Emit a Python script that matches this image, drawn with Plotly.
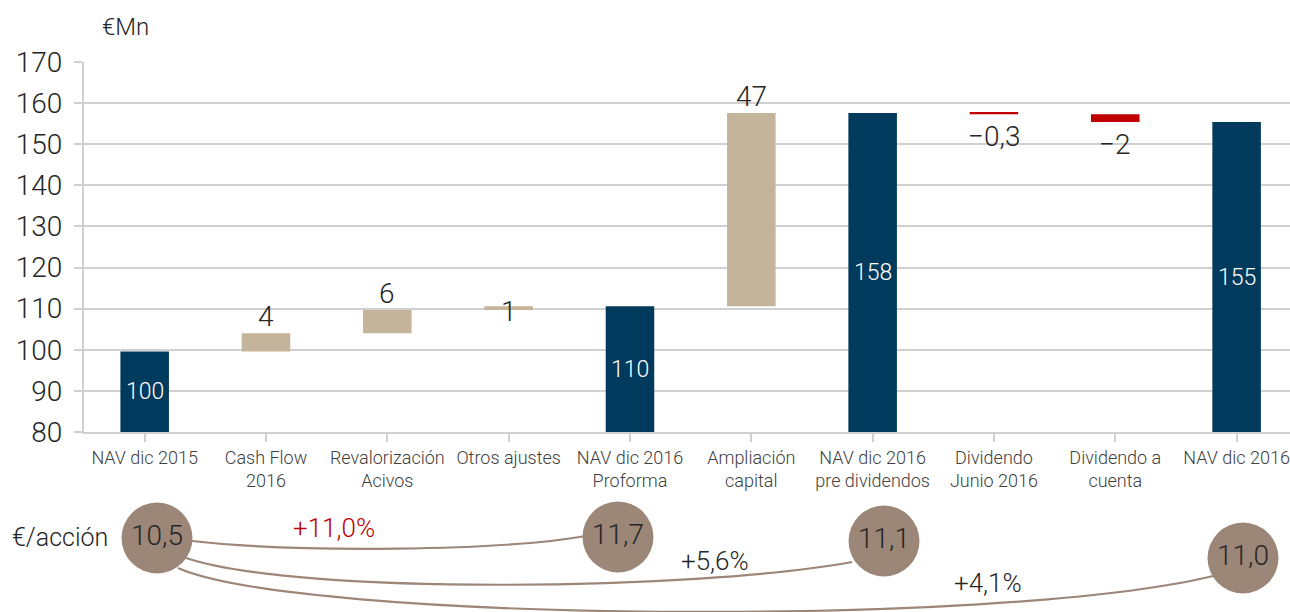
import plotly.graph_objects as go

# waterfall data (EUR Mn)
categories = ["NAV dic 2015", "Cash Flow<br>2016", "Revalorización<br>Acivos", "Otros ajustes",
              "NAV dic 2016<br>Proforma", "Ampliación<br>capital", "NAV dic 2016<br>pre dividendos",
              "Dividendo<br>Junio 2016", "Dividendo a<br>cuenta", "NAV dic 2016"]
measures = ["total", "relative", "relative", "relative", "total",
            "relative", "total", "relative", "relative", "total"]
nav_values = [99.6, 4.4, 5.7, 0.9, 110.6, 47.0, 157.6, -0.3, -1.9, 155.4]
value_labels = ["100", "4", "6", "1", "110", "47", "158", "−0,3", "−2", "155"]

# per share data
per_share = [10.5, 11.7, 11.1, 11.0]
per_share_labels = ["10,5", "11,7", "11,1", "11,0"]
growth_labels = ["+11,0%", "+5,6%", "+4,1%"]

NAVY = "#003A5D"
TAN = "#C4B49A"
RED = "#C00000"
BROWN = "#9C8677"
GRID = "#D0D0D0"
TXT = "#262626"
FONT = "Roboto"

W, H = 1290, 612
L, T = 84, 62
AXIS_BOTTOM = 432
Y_MIN, Y_MAX = 80, 170


def paper(px, py):
    return (px - L) / (W - L), (H - py) / (H - T)


split = (H - AXIS_BOTTOM) / (H - T)

# bases of the floating bars
bases, heights, colors = [], [], []
running = 0.0
for m, v in zip(measures, nav_values):
    if m == "total":
        bases.append(0.0)
        heights.append(v)
        colors.append(NAVY)
        running = v
    else:
        bases.append(running)
        heights.append(v)
        colors.append(TAN if v > 0 else RED)
        running += v

fig = go.Figure()
fig.add_trace(go.Bar(x=list(range(len(categories))), y=heights, base=bases,
                     marker=dict(color=colors, line=dict(width=0)),
                     width=0.4, hoverinfo="skip", showlegend=False))

label_pos = ["inside", "above", "above", "middle", "inside", "above", "inside", "below", "below", "inside"]
annotations = []
for i, (b, h, lab, pos) in enumerate(zip(bases, heights, value_labels, label_pos)):
    lo, hi = min(b, b + h), max(b, b + h)
    if pos == "inside":
        annotations.append(dict(x=i, y=(max(lo, Y_MIN) + hi) / 2, xref="x", yref="y", text=lab,
                                showarrow=False,
                                font=dict(size=23, color="white", family=FONT, weight=300)))
    elif pos == "above":
        annotations.append(dict(x=i, y=hi, xref="x", yref="y", text=lab, showarrow=False,
                                yanchor="bottom", yshift=-2,
                                font=dict(size=28, color=TXT, family=FONT, weight=300)))
    elif pos == "middle":
        annotations.append(dict(x=i, y=(lo + hi) / 2, xref="x", yref="y", text=lab, showarrow=False,
                                yshift=-3, font=dict(size=28, color=TXT, family=FONT, weight=300)))
    else:
        annotations.append(dict(x=i, y=lo, xref="x", yref="y", text=lab, showarrow=False,
                                yanchor="top", yshift=-4,
                                font=dict(size=28, color=TXT, family=FONT, weight=300)))

# bottom panel: per share circles (pixel coordinates)
circle_x = [157, 618, 884, 1243]
circle_y = [538, 537, 541, 558]
fig.add_trace(go.Scatter(x=circle_x, y=circle_y, mode="markers+text", xaxis="x2", yaxis="y2",
                         marker=dict(size=71, color=BROWN, line=dict(width=0)),
                         text=per_share_labels, textposition="middle center",
                         textfont=dict(size=28, color=TXT, family=FONT, weight=300),
                         customdata=per_share, hoverinfo="skip", showlegend=False, cliponaxis=False))

curves = [
    "M 192,541 C 300,553 500,551 586,536",
    "M 186,558 C 300,596 700,590 852,562",
    "M 178,568 C 300,622 1000,628 1213,576",
]
shapes = [dict(type="path", path=p, xref="x2", yref="y2", layer="below",
               line=dict(color=BROWN, width=2.2)) for p in curves]

growth_pos = [(334, 528), (715, 561), (988, 583)]
growth_col = [RED, TXT, TXT]
for (gx, gy), g, c in zip(growth_pos, growth_labels, growth_col):
    annotations.append(dict(x=gx, y=gy, xref="x2", yref="y2", text=g, showarrow=False,
                            xanchor="center", yanchor="middle",
                            font=dict(size=26, color=c, family=FONT, weight=300)))

px_, py_ = paper(60, 537)
annotations.append(dict(x=px_, y=py_, xref="paper", yref="paper", text="€/acción", showarrow=False,
                        xanchor="center", yanchor="middle",
                        font=dict(size=25, color=TXT, family=FONT, weight=300)))
px_, py_ = paper(125, 27)
annotations.append(dict(x=px_, y=py_, xref="paper", yref="paper", text="€Mn", showarrow=False,
                        xanchor="center", yanchor="middle",
                        font=dict(size=24, color=TXT, family=FONT, weight=300)))

fig.update_layout(
    width=W, height=H,
    margin=dict(l=L, r=0, t=T, b=0, autoexpand=False),
    plot_bgcolor="white", paper_bgcolor="white",
    bargap=0.6,
    font=dict(family=FONT, color=TXT),
    xaxis=dict(domain=[0, 1], anchor="y", range=[-0.5, 9.44], automargin=False,
               tickmode="array", tickvals=list(range(len(categories))), ticktext=categories,
               showgrid=False, showline=True, linecolor=GRID, linewidth=2,
               ticks="outside", ticklen=8, tickcolor=GRID, tickwidth=2,
               tickfont=dict(size=18, color="#404040", family=FONT, weight=300),
               zeroline=False),
    yaxis=dict(domain=[split, 1], anchor="x", range=[Y_MIN, Y_MAX], dtick=10, automargin=False,
               showgrid=True, gridcolor=GRID, gridwidth=2,
               showline=True, linecolor=GRID, linewidth=2,
               ticks="outside", ticklen=8, tickcolor=GRID, tickwidth=2,
               ticklabelstandoff=6,
               tickfont=dict(size=28, color=TXT, family=FONT, weight=300),
               zeroline=False),
    xaxis2=dict(domain=[0, 1], anchor="y2", range=[L, W], visible=False),
    yaxis2=dict(domain=[0, split], anchor="x2", range=[H, AXIS_BOTTOM], visible=False),
    shapes=shapes,
    annotations=annotations,
)

# drop the default page margin so the figure sits at the window's top-left corner
fig.write_html("out.html", config={"displayModeBar": False},
               post_script="document.body.style.margin='0';")
